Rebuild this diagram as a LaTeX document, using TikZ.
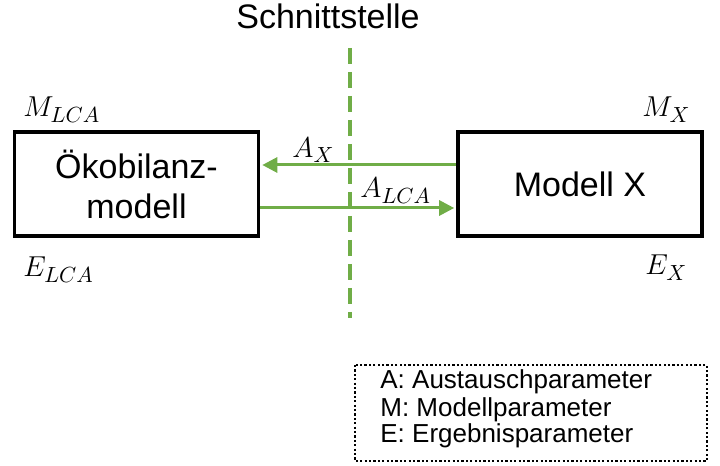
\documentclass[tikz,border=0pt]{standalone}
\usepackage{fontspec}
\setmainfont{Liberation Sans}
\usetikzlibrary{arrows.meta}
\definecolor{officegreen}{HTML}{70AD47}
\begin{document}
\begin{tikzpicture}[x=0.5pt,y=-0.5pt,
  modelbox/.style={draw=black,line width=1.8pt,minimum width=122pt,minimum height=52pt,
    inner sep=0pt,align=center,font=\fontsize{17}{20}\selectfont},
  flow/.style={draw=officegreen,line width=1.5pt,-{Triangle[length=7.5pt,width=7.5pt]},shorten >=1pt},
  cutline/.style={draw=officegreen,line width=1.6pt,dash pattern=on 8pt off 4pt},
  mathlbl/.style={anchor=base west,inner sep=0pt,font=\fontsize{15}{17}\selectfont},
  legendbox/.style={draw=black,line width=1.2pt,dash pattern=on 1.1pt off 1.1pt}
]
\useasboundingbox (0,0) rectangle (720,466);
% boxes
\node[modelbox] (oko) at (136.5,184) {Ökobilanz-\\modell};
\node[modelbox] (mx) at (580,184) {Modell X};
% interface line
\coordinate (cuttop) at (350,48);
\coordinate (cutbot) at (350,318);
\draw[cutline] (cuttop) -- (cutbot);
\node[anchor=base,inner sep=0pt,font=\fontsize{17}{20}\selectfont] (schnitt) at (328,29) {Schnittstelle};
% arrows
\draw[flow] ([yshift=9.5pt]mx.west) -- ([yshift=9.5pt]oko.east);
\draw[flow] ([yshift=-12pt]oko.east) -- ([yshift=-12pt]mx.west);
% labels
\node[mathlbl] (ax) at (292,157) {$A_X$};
\node[mathlbl] (alca) at (360,198) {$A_{LCA}$};
\node[mathlbl] (mlca) at (23,117) {$M_{LCA}$};
\node[mathlbl] (elca) at (23,277) {$E_{LCA}$};
\node[mathlbl] (mxl) at (642,117) {$M_X$};
\node[mathlbl] (exl) at (645,275) {$E_X$};
% legend
\draw[legendbox] (355,365) rectangle (707,461);
\node[anchor=base west,inner sep=0pt,font=\fontsize{13}{15}\selectfont] (l1) at (380,389) {A: Austauschparameter};
\node[anchor=base west,inner sep=0pt,font=\fontsize{13}{15}\selectfont] (l2) at (380,416) {M: Modellparameter};
\node[anchor=base west,inner sep=0pt,font=\fontsize{13}{15}\selectfont] (l3) at (380,443) {E: Ergebnisparameter};
\end{tikzpicture}
\end{document}
